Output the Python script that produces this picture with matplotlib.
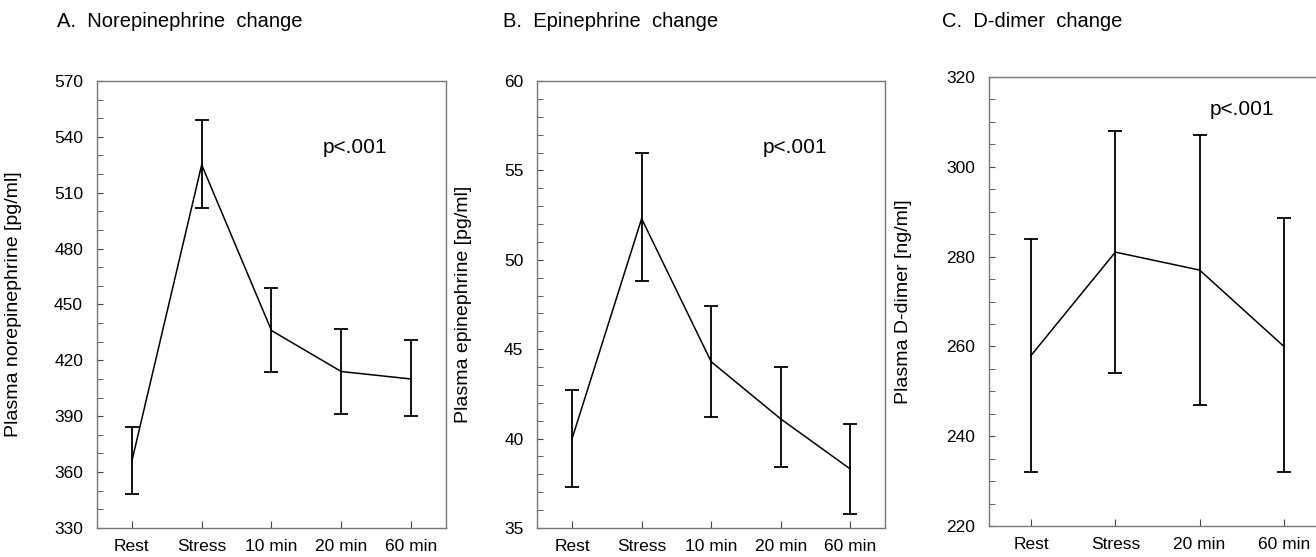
import numpy as np
import matplotlib
matplotlib.use("Agg")
import matplotlib.pyplot as plt
from matplotlib.ticker import MultipleLocator

plt.rcParams['font.family'] = ['Liberation Sans', 'DejaVu Sans']

# panel A - norepinephrine
labels_a = ['Rest', 'Stress', '10 min', '20 min', '60 min']
ne_mean = [366, 525, 436, 414, 410]
ne_low = [348, 502, 414, 391, 390]
ne_high = [384, 549, 459, 437, 431]

# panel B - epinephrine
labels_b = ['Rest', 'Stress', '10 min', '20 min', '60 min']
epi_mean = [40.0, 52.3, 44.3, 41.1, 38.3]
epi_low = [37.3, 48.8, 41.2, 38.4, 35.8]
epi_high = [42.7, 56.0, 47.4, 44.0, 40.8]

# panel C - D-dimer
labels_c = ['Rest', 'Stress', '20 min', '60 min']
dd_mean = [258, 281, 277, 260]
dd_low = [232, 254, 247, 232]
dd_high = [284, 308, 307, 288.5]

fig = plt.figure(figsize=(13.16, 5.57), dpi=100)

panels = [
    dict(pos=[0.0737, 0.0521, 0.2652, 0.8025], labels=labels_a, mean=ne_mean,
         low=ne_low, high=ne_high, ylim=(330, 570), major=30, minor=10,
         ylabel='Plasma norepinephrine [pg/ml]', ylab_x=-0.216,
         title='A.  Norepinephrine  change', tx=0.043, p=(0.74, 0.851)),
    dict(pos=[0.4083, 0.0521, 0.2642, 0.8025], labels=labels_b, mean=epi_mean,
         low=epi_low, high=epi_high, ylim=(35, 60), major=5, minor=1,
         ylabel='Plasma epinephrine [pg/ml]', ylab_x=-0.189,
         title='B.  Epinephrine  change', tx=0.382, p=(0.74, 0.851)),
    dict(pos=[0.7515, 0.0557, 0.2561, 0.806], labels=labels_c, mean=dd_mean,
         low=dd_low, high=dd_high, ylim=(220, 320), major=20, minor=5,
         ylabel='Plasma D-dimer [ng/ml]', ylab_x=-0.229,
         title='C.  D-dimer  change', tx=0.716, p=(0.752, 0.927)),
]

for pn in panels:
    ax = fig.add_axes(pn['pos'])
    x = np.arange(len(pn['labels']))
    mean = np.array(pn['mean'])
    yerr = [mean - np.array(pn['low']), np.array(pn['high']) - mean]
    ax.errorbar(x, mean, yerr=yerr, color='black', lw=1.1, elinewidth=1.3,
                capsize=5, capthick=1.3)
    ax.set_xlim(-0.5, len(x) - 0.5)
    ax.set_ylim(*pn['ylim'])
    ax.set_xticks(x)
    ax.set_xticklabels(pn['labels'])
    ax.yaxis.set_major_locator(MultipleLocator(pn['major']))
    ax.yaxis.set_minor_locator(MultipleLocator(pn['minor']))
    ax.tick_params(axis='y', which='both', direction='in', length=4,
                   color='#444444', labelsize=12.5, pad=10)
    ax.tick_params(axis='x', direction='in', length=5, color='#444444',
                   labelsize=12.5, pad=8)
    for s in ax.spines.values():
        s.set_color('#777777')
        s.set_linewidth(1)
    ax.set_ylabel(pn['ylabel'], fontsize=14)
    ax.yaxis.set_label_coords(pn['ylab_x'], 0.5)
    ax.text(pn['p'][0], pn['p'][1], 'p<.001', transform=ax.transAxes,
            ha='center', va='center', fontsize=15)
    fig.text(pn['tx'], 0.962, pn['title'], ha='left', va='center', fontsize=14.5)

fig.savefig('out.png', dpi=100, facecolor='white')
